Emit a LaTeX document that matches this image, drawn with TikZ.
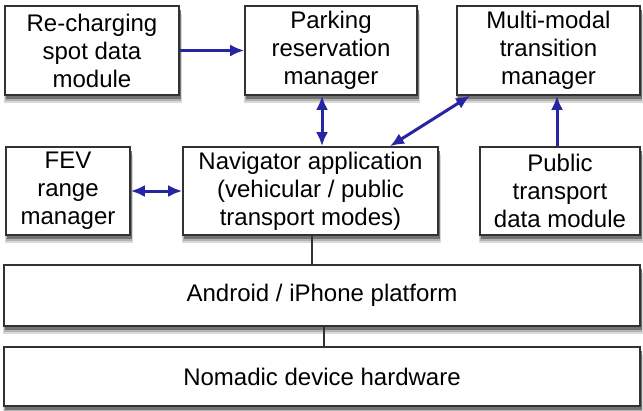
\documentclass[tikz,border=0pt]{standalone}
\usepackage{fontspec}
\setmainfont{Liberation Sans}
\usetikzlibrary{arrows.meta}
\definecolor{arrowblue}{RGB}{38,38,165}
\definecolor{edgegray}{RGB}{50,50,50}
\tikzset{
  box/.style={draw=edgegray, line width=1.6pt, fill=white, align=center,
    inner sep=0pt, text=black,
    font=\fontsize{24pt}{28pt}\selectfont},
  shade1/.style={fill=black!15, draw=none},
  shade2/.style={fill=black!30, draw=none},
  shade3/.style={fill=black!55, draw=none},
  link/.style={draw=arrowblue, line width=3pt},
  tip/.style={-{Latex[length=14pt,width=12pt]}},
  both/.style={{Latex[length=14pt,width=12pt]}-{Latex[length=14pt,width=12pt]}},
  plain/.style={draw=edgegray, line width=1.5pt}
}
\newcommand{\boxshadow}[4]{%
  \fill[shade1] (#1-#3/2-1, #2-#4/2+8) rectangle (#1+#3/2+3, #2+#4/2+8);
  \fill[shade2] (#1-#3/2, #2-#4/2+6) rectangle (#1+#3/2+2, #2+#4/2+6);
  \fill[shade3] (#1-#3/2+1, #2-#4/2+4) rectangle (#1+#3/2+1.5, #2+#4/2+4);
}
\begin{document}
\begin{tikzpicture}[x=1pt,y=-1pt]
\fill[white] (0,0) rectangle (643,410);
\useasboundingbox (0,0) rectangle (643,410);
\boxshadow{92}{50.5}{174}{89}
\boxshadow{331}{50.5}{172}{89}
\boxshadow{548.5}{50.5}{183}{89}
\boxshadow{68}{191}{124}{88}
\boxshadow{310.5}{191}{255}{88}
\boxshadow{560}{191}{160}{88}
\boxshadow{322}{295.5}{636}{61}
\boxshadow{322}{376.5}{636}{59}
\node[box, minimum width=174pt, minimum height=89pt] (rc) at (92,50.5) {Re-charging\\spot data\\module};
\node[box, minimum width=172pt, minimum height=89pt] (pk) at (331,50.5) {Parking\\reservation\\manager};
\node[box, minimum width=183pt, minimum height=89pt] (mm) at (548.5,50.5) {Multi-modal\\transition\\manager};
\node[box, minimum width=124pt, minimum height=88pt] (fev) at (68,191) {FEV\\range\\manager};
\node[box, minimum width=255pt, minimum height=88pt] (nav) at (310.5,191) {Navigator application\\(vehicular / public\\transport modes)};
\node[box, minimum width=160pt, minimum height=88pt] (pt) at (560,191) {Public\\transport\\data module};
\node[box, minimum width=636pt, minimum height=61pt] (os) at (322,295.5) {Android / iPhone platform};
\node[box, minimum width=636pt, minimum height=59pt] (hw) at (322,376.5) {Nomadic device hardware};

\draw[link, tip] (rc) -- (pk);
\draw[link, both] ([xshift=-9pt]pk.south) -- ([xshift=-9pt]pk.south |- nav.north);
\draw[link, both] (fev) -- (nav);
\draw[link, both] ([xshift=79.5pt]nav.north) -- ([xshift=-78.5pt]mm.south);
\draw[link, tip] ([xshift=-3pt]pt.north) -- ([xshift=-3pt]pt.north |- mm.south);
\draw[plain] ([xshift=1.5pt]nav.south) -- ([xshift=1.5pt]nav.south |- os.north);
\draw[plain] ([xshift=2pt]os.south) -- ([xshift=2pt]os.south |- hw.north);
\end{tikzpicture}
\end{document}
